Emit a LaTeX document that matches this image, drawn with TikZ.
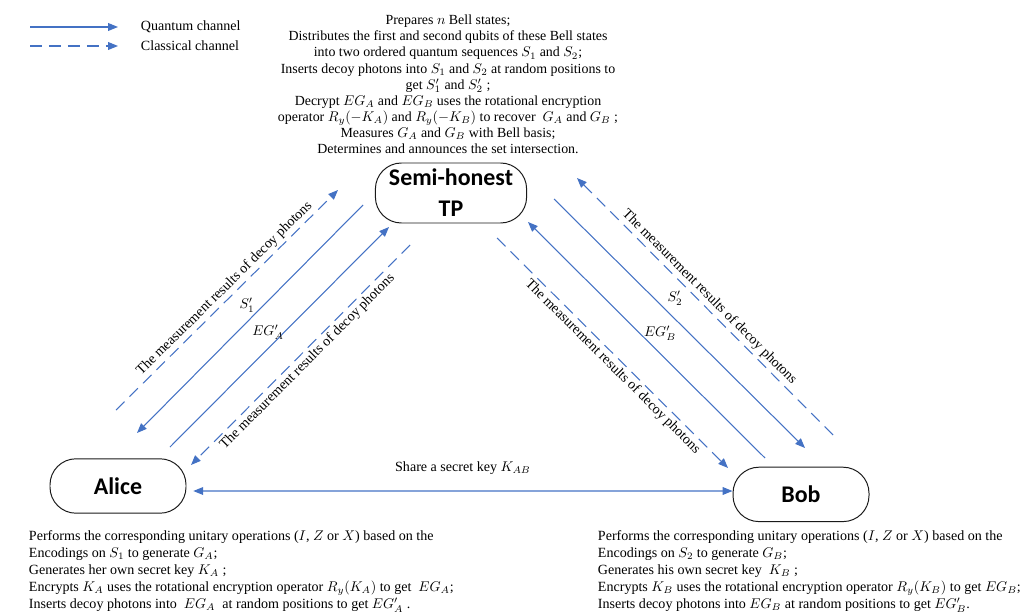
\documentclass[tikz,border=0pt]{standalone}
\usepackage{fontspec}
\setmainfont{Liberation Serif}
\newfontfamily\boxfont{Carlito}
\usetikzlibrary{arrows.meta,positioning,calc}
\definecolor{chblue}{HTML}{4472C4}
\definecolor{boxink}{HTML}{1A1A1A}

\begin{document}
\begin{tikzpicture}[font=\fontsize{10}{12}\selectfont,
  party/.style={draw=boxink, line width=0.7pt, rounded corners=0.65cm, minimum width=3.4cm, minimum height=1.36cm, font=\boxfont\bfseries\fontsize{17}{22}\selectfont, align=center},
  qline/.style={chblue, line width=0.75pt, -{Triangle[length=7pt,width=5.5pt]}},
  cline/.style={qline, dash pattern=on 8.5pt off 5pt},
  chlabel/.style={text=black, sloped, inner sep=2pt}]
  \useasboundingbox (0,0) rectangle (25.875,15.35);

  % legend
  \coordinate (lq1) at (0.75,14.675); \coordinate (lq2) at (2.95,14.675);
  \coordinate (lc1) at (0.75,14.2);   \coordinate (lc2) at (2.95,14.2);
  \draw[qline] (lq1) -- (lq2);
  \draw[cline] (lc1) -- (lc2);
  \node[anchor=west] (lqtext) at (3.4,14.675) {Quantum channel};
  \node[anchor=west] (lctext) at (3.4,14.2) {Classical channel};

  % parties
  \node[party, minimum width=3.78cm, minimum height=1.5cm] (tp) at (11.275,10.525) {Semi-honest\\TP};
  \node[party] (alice) at (2.95,3.2) {Alice};
  \node[party] (bob) at (20.025,2.99) {Bob};

  % what the TP does
  \node[anchor=north, align=center, font=\fontsize{9.9}{11.5}\selectfont] (tptext) at (11.2,15.1)
    {Prepares $n$ Bell states;\\
     Distributes the first and second qubits of these Bell states\\
     into two ordered quantum sequences $S_1$ and $S_2$;\\
     Inserts decoy photons into $S_1$ and $S_2$ at random positions to\\
     get $S_1'$ and $S_2'$ ;\\
     Decrypt $EG_A$ and $EG_B$ uses the rotational encryption\\
     operator $R_y(-K_A)$ and $R_y(-K_B)$ to recover\ \ $G_A$ and $G_B$ ;\\
     Measures $G_A$ and $G_B$ with Bell basis;\\
     Determines and announces the set intersection.};

  % what Alice and Bob do
  \node[anchor=north west, align=left] (alicetext) at (0.6,2.2)
    {Performs the corresponding unitary operations ($I$, $Z$ or $X$) based on the\\
     Encodings on $S_1$ to generate $G_A$;\\
     Generates her own secret key $K_A$ ;\\
     Encrypts $K_A$ uses the rotational encryption operator $R_y(K_A)$ to get\ \ $EG_A$;\\
     Inserts decoy photons into\ \ $EG_A$\ \ at random positions to get $EG_A'$ .};
  \node[anchor=north west, align=left] (bobtext) at (14.825,2.2)
    {Performs the corresponding unitary operations ($I$, $Z$ or $X$) based on the\\
     Encodings on $S_2$ to generate $G_B$;\\
     Generates his own secret key\ \ $K_B$ ;\\
     Encrypts $K_B$ uses the rotational encryption operator $R_y(K_B)$ to get $EG_B$;\\
     Inserts decoy photons into $EG_B$ at random positions to get $EG_B'$.};

  % Alice <-> TP
  \coordinate (a1) at (2.9,5.1);     \coordinate (a2) at (8.45,10.6);
  \coordinate (a3) at (9.075,10.225); \coordinate (a4) at (3.425,4.525);
  \coordinate (a5) at (4.25,4.175);  \coordinate (a6) at (9.725,9.675);
  \coordinate (a7) at (10.25,9.225); \coordinate (a8) at (4.775,3.725);
  \draw[cline] (a1) -- node[chlabel, above, pos=0.52] {The measurement results of decoy photons} (a2);
  \draw[qline] (a3) -- (a4);
  \draw[qline] (a5) -- (a6);
  \draw[cline] (a7) -- node[chlabel, below, pos=0.5] {The measurement results of decoy photons} (a8);
  \node (s1) at (6.175,7.725) {$S_1'$};
  \node (ega) at (6.7,7.05) {$EG_A'$};

  % Bob <-> TP
  \coordinate (b1) at (20.825,4.475); \coordinate (b2) at (14.425,10.9);
  \coordinate (b3) at (13.85,10.375); \coordinate (b4) at (20.125,4.15);
  \coordinate (b5) at (19.125,3.9);   \coordinate (b6) at (13.2,9.8);
  \coordinate (b7) at (12.425,9.4);   \coordinate (b8) at (18.2,3.65);
  \draw[cline] (b1) -- node[chlabel, above, pos=0.51] {The measurement results of decoy photons} (b2);
  \draw[qline] (b3) -- (b4);
  \draw[qline] (b5) -- (b6);
  \draw[cline] (b7) -- node[chlabel, below, pos=0.53] {The measurement results of decoy photons} (b8);
  \node (s2) at (16.875,7.9) {$S_2'$};
  \node (egb) at (16.5,7.025) {$EG_B'$};

  % shared key
  \draw[qline, {Triangle[length=7pt,width=5.5pt]}-{Triangle[length=7pt,width=5.5pt]}]
    ([xshift=0.17cm,yshift=-0.125cm]alice.east) -- node[above=0.28cm, text=black] (kab) {Share a secret key $K_{AB}$} ([yshift=0.085cm]bob.west);
\end{tikzpicture}
\end{document}
